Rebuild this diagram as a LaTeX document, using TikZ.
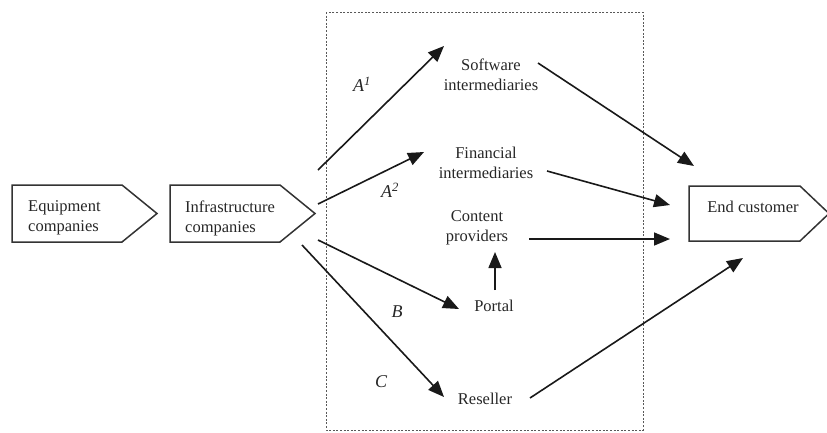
\documentclass[tikz,border=0pt]{standalone}
\usepackage{fontspec}
\setmainfont{Liberation Serif}
\usetikzlibrary{arrows.meta}
\begin{document}
\begin{tikzpicture}[x=1pt,y=-1pt,
  lbl/.style={inner sep=0pt,align=center,font=\fontsize{16.5}{20}\selectfont,text=black!85},
  boxlbl/.style={inner sep=0pt,align=left,font=\fontsize{16.5}{20}\selectfont,text=black!85},
  tag/.style={inner sep=0pt,font=\fontsize{18}{20}\selectfont\itshape,text=black!85},
  arrowbox/.style={draw=black!80,line width=1.5pt,line join=miter},
  flow/.style={draw=black!90,line width=1.6pt,-{Triangle[length=16pt,width=13pt]}},
  frame/.style={draw=black!65,line width=0.8pt,dash pattern=on 2pt off 1.6pt}
]
\useasboundingbox (0,0) rectangle (827,432);

% market frame
\draw[frame] (326,12) rectangle (643,430);

% pentagon-shaped company boxes
\draw[arrowbox] (12,185) -- (122,185) -- (157,213.5) -- (122,242) -- (12,242) -- cycle;
\draw[arrowbox] (170,185) -- (280,185) -- (315,213.5) -- (280,242) -- (170,242) -- cycle;
\draw[arrowbox] (689,186) -- (800,186) -- (829,213.5) -- (800,241) -- (689,241) -- cycle;

\node[boxlbl,anchor=west] (equip) at (28,218) {Equipment\\companies};
\node[boxlbl,anchor=west] (infra) at (185,218) {Infrastructure\\companies};
\node[lbl] (endc) at (753,207) {End customer};

\node[lbl] (soft) at (491,75) {Software\\intermediaries};
\node[lbl] (fin) at (486,163) {Financial\\intermediaries};
\node[lbl] (cont) at (477,227.5) {Content\\providers};
\node[lbl] (portal) at (494,306) {Portal};
\node[lbl] (resel) at (485,399) {Reseller};

\node[tag] (ta1) at (362,84) {A\textsuperscript{1}};
\node[tag] (ta2) at (390,190) {A\textsuperscript{2}};
\node[tag] (tb) at (397,312) {B};
\node[tag] (tc) at (381,382) {C};

% connector end points
\coordinate (i1) at (318,170);
\coordinate (i2) at (318,204);
\coordinate (i3) at (318,240);
\coordinate (i4) at (302,245);
\coordinate (s1) at (444,46);
\coordinate (f1) at (424,152);
\coordinate (p1) at (459,309);
\coordinate (r1) at (444,397);
\coordinate (p2) at (495,290);
\coordinate (c1) at (495,252);
\coordinate (s2) at (538,63);
\coordinate (f2) at (547,171);
\coordinate (c2) at (529,239);
\coordinate (r2) at (530,398);
\coordinate (e1) at (694,166);
\coordinate (e2) at (670,205);
\coordinate (e3) at (670,239);
\coordinate (e4) at (743,258);

\draw[flow] (i1) -- (s1);
\draw[flow] (i2) -- (f1);
\draw[flow] (i3) -- (p1);
\draw[flow] (i4) -- (r1);
\draw[flow] (p2) -- (c1);
\draw[flow] (s2) -- (e1);
\draw[flow] (f2) -- (e2);
\draw[flow] (c2) -- (e3);
\draw[flow] (r2) -- (e4);
\end{tikzpicture}
\end{document}
